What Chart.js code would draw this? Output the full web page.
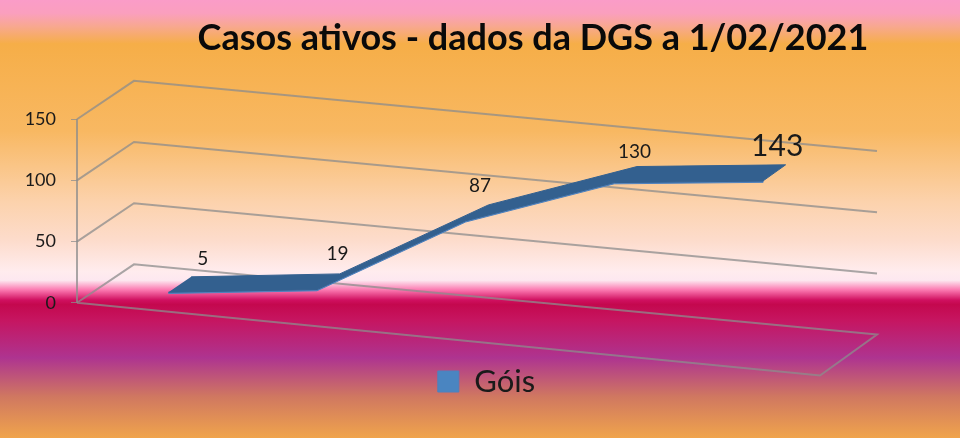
<!DOCTYPE html>
<html lang="pt">
<head>
    <meta charset="UTF-8">
    <title>Casos ativos</title>
    <script src="https://cdn.jsdelivr.net/npm/chart.js"></script>
    <style>
        body { margin: 0; }
        canvas { display: block; }
    </style>
</head>
<body>
    <canvas id="chart" width="960" height="438"></canvas>

    <script>
        // Data
        const serieNome = 'Góis';
        const casos = [5, 19, 87, 130, 143];
        const yTicks = [0, 50, 100, 150];
        const titulo = 'Casos ativos - dados da DGS a 1/02/2021';

        // Oblique "3D" view, expressed in the units of the two chart scales
        const depthX = 0.0767;      // x shift from the front wall to the back wall
        const dropPerCat = 59.5;    // the floor falls to the right
        const risePerDepth = 31.4;  // and rises towards the back
        const skew = 2.07;          // slight perspective at the back right

        function project(t, value, depth) {
            return {
                x: t + depthX * depth,
                y: value - dropPerCat * t + risePerDepth * depth + skew * t * depth
            };
        }

        const catPos = casos.map((v, i) => (i + 0.5) / casos.length);
        const ribbonBack = 0.7, ribbonFront = 0.3;

        const topFace = [
            ...casos.map((v, i) => project(catPos[i], v, ribbonBack)),
            ...casos.map((v, i) => project(catPos[i], v, ribbonFront)).reverse()
        ];
        const sideFace = [
            ...casos.map((v, i) => project(catPos[i], v, ribbonFront)),
            ...casos.map((v, i) => project(catPos[i], v - 1, ribbonFront)).reverse()
        ];

        const gridColor = 'rgba(140, 140, 140, 0.75)';

        function lineSet(points) {
            return { data: points, borderColor: gridColor, borderWidth: 2, fill: false, clip: false };
        }

        const gridSets = yTicks.filter(v => v > 0).map(v => lineSet([
            project(0, v, 0), project(0, v, 1), project(1, v, 1)
        ]));
        const floorSet = lineSet([
            project(0, 0, 0), project(0, 0, 1), project(1, 0, 1), project(1, 0, 0), project(0, 0, 0)
        ]);
        const wallSet = lineSet([
            project(0, yTicks[0], 0), project(0, yTicks[yTicks.length - 1], 0)
        ]);

        // Background bands, top to bottom
        const bgStops = [
            [0, '#fa9cc8'], [0.03, '#fa9fbe'], [0.06, '#f8a890'], [0.1, '#f6ae48'], [0.3, '#f8b862'],
            [0.46, '#fcd2ac'], [0.55, '#fddccc'], [0.62, '#ffecee'], [0.64, '#fde8f0'],
            [0.662, '#fb78b0'], [0.685, '#d01060'], [0.695, '#c4084e'], [0.73, '#c61560'],
            [0.817, '#ae3490'], [0.906, '#d07860'], [1, '#f0a44c']
        ];

        // Label offset from the middle of the ribbon, in pixels
        const labelOffsets = [[23, -26], [9, -28], [3, -27], [9, -23], [3, -27]];
        const labelSizes = [19, 19, 19, 19, 30];

        const fundo = {
            id: 'fundo',
            afterLayout(chart) {
                // title and legend are not centred on the picture in the original
                chart.titleBlock.left += 94.5;
                chart.titleBlock.right += 94.5;
                chart.legend.left += 48;
                chart.legend.right += 48;
            },
            beforeDraw(chart) {
                const { ctx, width, height } = chart;
                const g = ctx.createLinearGradient(0, 0, 0, height);
                bgStops.forEach(s => g.addColorStop(s[0], s[1]));
                ctx.save();
                ctx.fillStyle = g;
                ctx.fillRect(0, 0, width, height);
                ctx.restore();
            },
            afterDraw(chart) {
                const { ctx, scales } = chart;
                ctx.save();
                ctx.textAlign = 'center';
                ctx.textBaseline = 'middle';
                ctx.fillStyle = '#1a1a1a';
                casos.forEach((v, i) => {
                    const p = project(catPos[i], v, 0.5);
                    ctx.font = labelSizes[i] + 'px Lato';
                    ctx.fillText(String(v),
                        scales.x.getPixelForValue(p.x) + labelOffsets[i][0],
                        scales.y.getPixelForValue(p.y) + labelOffsets[i][1]);
                });
                ctx.restore();
            }
        };

        new Chart(document.getElementById('chart'), {
            type: 'scatter',
            data: {
                datasets: [
                    { label: serieNome + ' topo', data: topFace, backgroundColor: '#33608f', borderColor: '#33608f', borderWidth: 1, fill: 'shape', showLine: true, clip: false },
                    { label: serieNome, data: sideFace, backgroundColor: '#4a85c1', borderColor: '#4f81bd', borderWidth: 1, fill: 'shape', showLine: true, clip: false },
                    ...gridSets,
                    floorSet,
                    wallSet
                ]
            },
            options: {
                responsive: false,
                animation: false,
                showLine: true,
                elements: { point: { radius: 0, hoverRadius: 0 }, line: { tension: 0 } },
                layout: { padding: { right: 83, bottom: 31 } },
                plugins: {
                    tooltip: { enabled: false },
                    title: {
                        display: true,
                        text: titulo,
                        color: '#0a0a0a',
                        font: { family: 'Lato', size: 36, weight: 'bold' },
                        padding: { top: 17, bottom: 0.6 }
                    },
                    legend: {
                        position: 'bottom',
                        labels: {
                            filter: item => item.text === serieNome,
                            color: '#1a1a1a',
                            font: { family: 'Lato', size: 31 },
                            boxWidth: 21,
                            boxHeight: 21,
                            padding: 8.5
                        }
                    }
                },
                scales: {
                    x: { type: 'linear', display: false, min: 0, max: 1 + depthX },
                    y: {
                        min: -44.8,
                        max: 197.8,
                        afterBuildTicks: s => { s.ticks = yTicks.map(v => ({ value: v })); },
                        afterFit: s => { s.width = 77; },
                        border: { display: false },
                        grid: { drawOnChartArea: false, tickLength: 6, color: gridColor },
                        ticks: { color: '#1a1a1a', padding: 15, font: { family: 'Lato', size: 18 } }
                    }
                }
            },
            plugins: [fundo]
        });
    </script>
</body>
</html>
